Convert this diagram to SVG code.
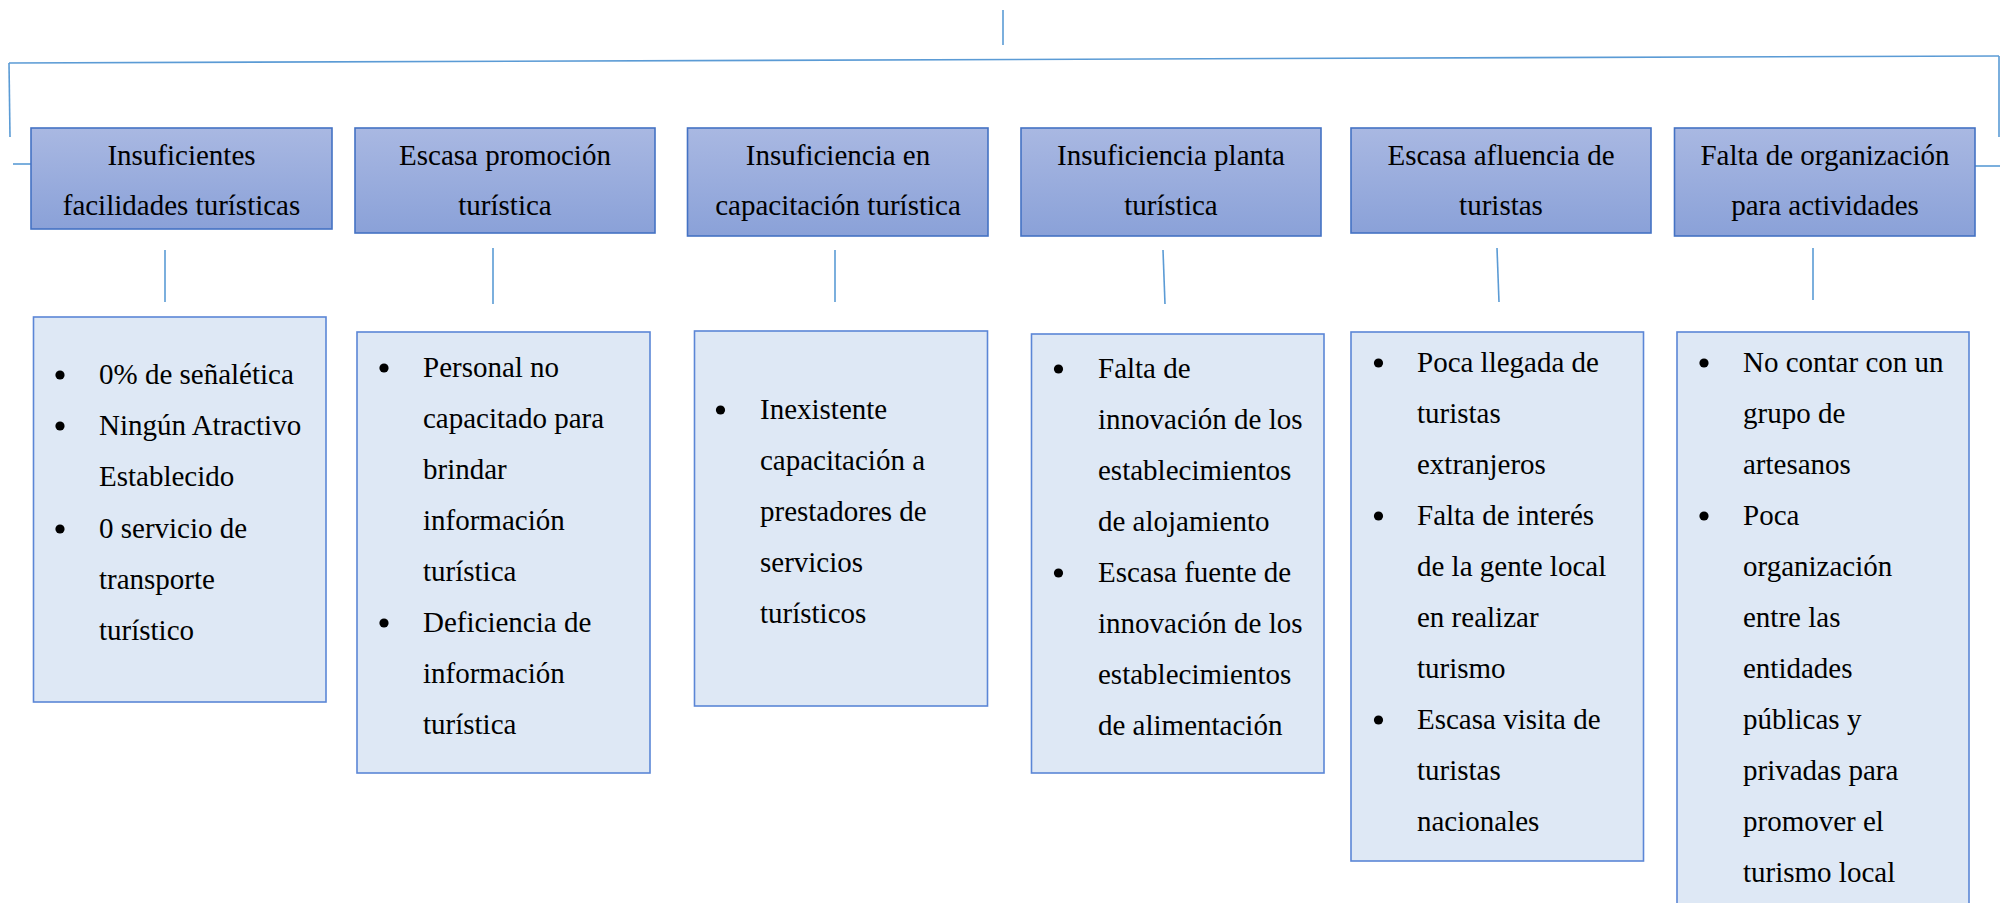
<svg xmlns="http://www.w3.org/2000/svg" width="2000" height="903" viewBox="0 0 2000 903">
<defs>
<linearGradient id="hdr" x1="0" y1="0" x2="0" y2="1">
<stop offset="0" stop-color="#A9B8E2"/>
<stop offset="1" stop-color="#8AA1D8"/>
</linearGradient>
<style>
.hbox{fill:url(#hdr);stroke:#4472C4;stroke-width:1.6}
.dbox{fill:#DEE8F5;stroke:#5B86D6;stroke-width:1.6}
.conn{stroke:#5B9BD5;stroke-width:1.6;fill:none}
text{font-family:"Liberation Serif","Times New Roman",serif;font-size:29px;fill:#000}
.c{text-anchor:middle}
.b{fill:#000}
</style>
</defs>
<rect width="2000" height="903" fill="#fff"/>
<g id="connectors">
<line class="conn" x1="1003" y1="10" x2="1003" y2="45"/>
<line class="conn" x1="9" y1="63" x2="1999" y2="56"/>
<line class="conn" x1="9" y1="63" x2="10" y2="137"/>
<line class="conn" x1="1999" y1="56" x2="1999" y2="137"/>
<line class="conn" x1="13" y1="164" x2="31" y2="164"/>
<line class="conn" x1="1975" y1="166" x2="2000" y2="166"/>
<line class="conn" x1="165" y1="250" x2="165" y2="302"/>
<line class="conn" x1="493" y1="248" x2="493" y2="304"/>
<line class="conn" x1="835" y1="250" x2="835" y2="302"/>
<line class="conn" x1="1163" y1="250" x2="1165" y2="304"/>
<line class="conn" x1="1497" y1="248" x2="1499" y2="302"/>
<line class="conn" x1="1813" y1="248" x2="1813" y2="300"/>
</g>
<g id="h1"><rect class="hbox" x="31" y="128" width="301" height="101"/>
<text class="c" x="181.5" y="165">Insuficientes</text><text class="c" x="181.5" y="215">facilidades turísticas</text></g>
<g id="h2"><rect class="hbox" x="355" y="128" width="300" height="105"/>
<text class="c" x="505" y="165">Escasa promoción</text><text class="c" x="505" y="215">turística</text></g>
<g id="h3"><rect class="hbox" x="687.5" y="128" width="300.5" height="108"/>
<text class="c" x="838" y="165">Insuficiencia en</text><text class="c" x="838" y="215">capacitación turística</text></g>
<g id="h4"><rect class="hbox" x="1021" y="128" width="300" height="108"/>
<text class="c" x="1171" y="165">Insuficiencia planta</text><text class="c" x="1171" y="215">turística</text></g>
<g id="h5"><rect class="hbox" x="1351" y="128" width="300" height="105"/>
<text class="c" x="1501" y="165">Escasa afluencia de</text><text class="c" x="1501" y="215">turistas</text></g>
<g id="h6"><rect class="hbox" x="1674.5" y="128" width="300.5" height="108"/>
<text class="c" x="1825" y="165">Falta de organización</text><text class="c" x="1825" y="215">para actividades</text></g>

<g id="d1"><rect class="dbox" x="33.5" y="317" width="292.5" height="385"/>
<circle class="b" cx="60" cy="375" r="4.6"/><circle class="b" cx="60" cy="426" r="4.6"/><circle class="b" cx="60" cy="529" r="4.6"/>
<text x="99" y="384">0% de señalética</text>
<text x="99" y="435">Ningún Atractivo</text>
<text x="99" y="486">Establecido</text>
<text x="99" y="538">0 servicio de</text>
<text x="99" y="589">transporte</text>
<text x="99" y="640">turístico</text></g>

<g id="d2"><rect class="dbox" x="357" y="332" width="293" height="441"/>
<circle class="b" cx="384" cy="368" r="4.6"/><circle class="b" cx="384" cy="623" r="4.6"/>
<text x="423" y="377">Personal no</text>
<text x="423" y="428">capacitado para</text>
<text x="423" y="479">brindar</text>
<text x="423" y="530">información</text>
<text x="423" y="581">turística</text>
<text x="423" y="632">Deficiencia de</text>
<text x="423" y="683">información</text>
<text x="423" y="734">turística</text></g>

<g id="d3"><rect class="dbox" x="694.5" y="331" width="293" height="375"/>
<circle class="b" cx="720.5" cy="410" r="4.6"/>
<text x="760" y="419">Inexistente</text>
<text x="760" y="470">capacitación a</text>
<text x="760" y="521">prestadores de</text>
<text x="760" y="572">servicios</text>
<text x="760" y="623">turísticos</text></g>

<g id="d4"><rect class="dbox" x="1031.5" y="334" width="292.5" height="439"/>
<circle class="b" cx="1058.5" cy="369" r="4.6"/><circle class="b" cx="1058.5" cy="573" r="4.6"/>
<text x="1098" y="378">Falta de</text>
<text x="1098" y="429">innovación de los</text>
<text x="1098" y="480">establecimientos</text>
<text x="1098" y="531">de alojamiento</text>
<text x="1098" y="582">Escasa fuente de</text>
<text x="1098" y="633">innovación de los</text>
<text x="1098" y="684">establecimientos</text>
<text x="1098" y="735">de alimentación</text></g>

<g id="d5"><rect class="dbox" x="1351" y="332" width="292.5" height="529"/>
<circle class="b" cx="1378.5" cy="363" r="4.6"/><circle class="b" cx="1378.5" cy="516" r="4.6"/><circle class="b" cx="1378.5" cy="720" r="4.6"/>
<text x="1417" y="372">Poca llegada de</text>
<text x="1417" y="423">turistas</text>
<text x="1417" y="474">extranjeros</text>
<text x="1417" y="525">Falta de interés</text>
<text x="1417" y="576">de la gente local</text>
<text x="1417" y="627">en realizar</text>
<text x="1417" y="678">turismo</text>
<text x="1417" y="729">Escasa visita de</text>
<text x="1417" y="780">turistas</text>
<text x="1417" y="831">nacionales</text></g>

<g id="d6"><rect class="dbox" x="1677" y="332" width="292" height="600"/>
<circle class="b" cx="1704" cy="363" r="4.6"/><circle class="b" cx="1704" cy="516" r="4.6"/>
<text x="1743" y="372">No contar con un</text>
<text x="1743" y="423">grupo de</text>
<text x="1743" y="474">artesanos</text>
<text x="1743" y="525">Poca</text>
<text x="1743" y="576">organización</text>
<text x="1743" y="627">entre las</text>
<text x="1743" y="678">entidades</text>
<text x="1743" y="729">públicas y</text>
<text x="1743" y="780">privadas para</text>
<text x="1743" y="831">promover el</text>
<text x="1743" y="882">turismo local</text></g>
</svg>
